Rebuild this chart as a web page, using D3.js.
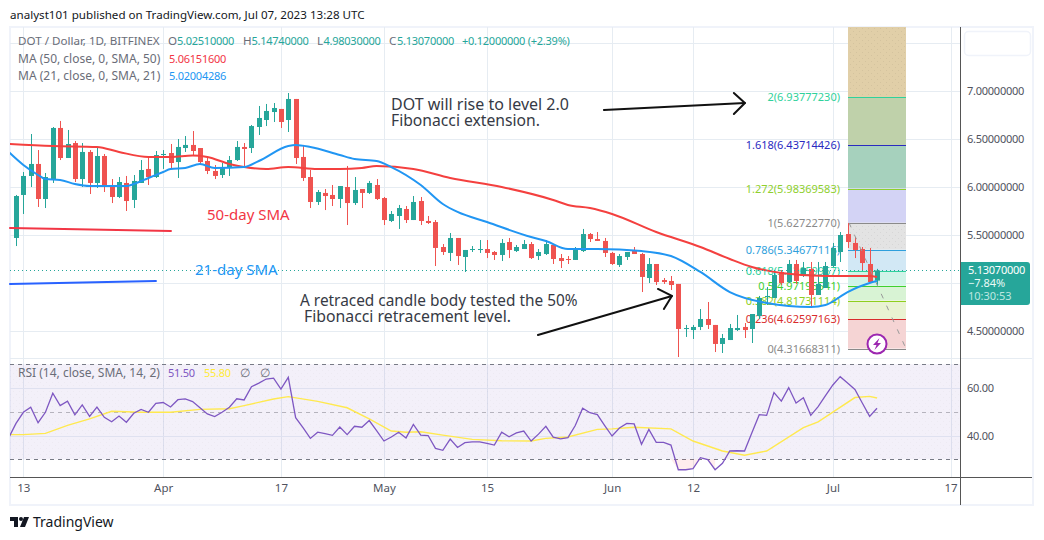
<!DOCTYPE html>
<html><head><meta charset="utf-8">
<script src="https://cdn.jsdelivr.net/npm/d3@7"></script>
<style>
html,body{margin:0;padding:0;background:#fff}
svg{display:block}
text{font-family:"Noto Sans",sans-serif}
</style></head><body><svg id="c" width="1044" height="540"></svg>
<script>
// Daily candles, 12 Mar 2023 (index 0) to 7 Jul 2023 (index 117)
const opens=[5.469,5.917,6.115,6.240,5.875,6.083,6.615,6.302,6.458,6.083,6.365,6.042,6.323,6.021,5.896,6.042,5.865,6.042,6.188,6.104,6.333,6.354,6.260,6.406,6.438,6.406,6.271,6.167,6.125,6.198,6.281,6.417,6.406,6.625,6.698,6.781,6.813,6.698,6.917,6.313,6.104,5.844,5.938,5.917,5.875,6.000,5.833,5.979,5.938,6.021,5.885,5.646,5.698,5.771,5.656,5.854,5.646,5.635,5.375,5.313,5.469,5.271,5.344,5.344,5.354,5.323,5.292,5.427,5.333,5.354,5.406,5.281,5.302,5.396,5.260,5.250,5.240,5.333,5.510,5.458,5.438,5.313,5.188,5.271,5.344,5.302,5.052,5.198,5.031,5.021,4.990,4.521,4.510,4.542,4.625,4.563,4.365,4.406,4.510,4.542,4.521,4.656,4.854,4.844,5.115,5.010,5.198,5.073,5.146,4.875,4.948,5.177,5.323,5.510,5.417,5.354,5.198,5.0251];
const highs=[5.917,6.156,6.552,6.385,6.146,6.625,6.688,6.594,6.479,6.458,6.385,6.417,6.344,6.083,6.104,6.115,6.125,6.281,6.302,6.375,6.385,6.448,6.5,6.531,6.583,6.406,6.313,6.229,6.25,6.323,6.479,6.458,6.646,6.844,6.865,6.875,6.813,6.979,6.917,6.438,6.177,5.969,5.979,6.021,6.010,6.219,6.104,5.979,6.063,6.083,5.896,5.75,5.813,5.802,5.906,5.896,5.698,5.656,5.406,5.521,5.469,5.344,5.385,5.448,5.448,5.333,5.458,5.469,5.396,5.448,5.427,5.354,5.448,5.406,5.302,5.281,5.375,5.563,5.521,5.531,5.469,5.323,5.302,5.323,5.375,5.313,5.260,5.198,5.052,5.073,4.990,4.563,4.563,4.729,4.802,4.563,4.469,4.573,4.667,4.583,4.677,4.865,4.958,5.135,5.135,5.240,5.240,5.219,5.219,5.219,5.219,5.417,5.531,5.625,5.479,5.375,5.365,5.1474];
const lows=[5.385,5.719,6.0,5.792,5.781,6.042,6.281,6.302,6.052,6.0,5.927,5.990,5.948,5.833,5.885,5.75,5.781,6.042,6.021,6.094,6.188,6.188,6.094,6.365,6.333,6.240,6.135,6.083,6.094,6.115,6.271,6.219,6.354,6.542,6.635,6.677,6.615,6.573,6.240,6.063,5.781,5.813,5.760,5.802,5.781,5.604,5.813,5.781,5.927,5.865,5.604,5.635,5.563,5.625,5.656,5.604,5.615,5.177,5.292,5.229,5.188,5.115,5.323,5.313,5.260,5.240,5.229,5.260,5.323,5.354,5.25,5.240,5.292,5.198,5.156,5.198,5.240,5.323,5.427,5.438,5.271,5.188,5.167,5.240,5.302,4.906,5.0,4.979,4.990,4.927,4.229,4.438,4.417,4.510,4.521,4.281,4.271,4.406,4.5,4.427,4.375,4.625,4.771,4.844,4.979,5.0,4.990,5.063,4.740,4.875,4.948,5.167,5.219,5.365,5.260,5.135,5.0,4.9803];
const closes=[5.906,6.115,6.240,5.875,6.104,6.615,6.302,6.448,6.083,6.365,6.042,6.323,6.0,5.896,6.052,5.854,6.063,6.177,6.104,6.333,6.344,6.25,6.417,6.438,6.375,6.260,6.167,6.115,6.208,6.281,6.417,6.396,6.635,6.719,6.792,6.823,6.677,6.917,6.302,6.094,5.844,5.948,5.906,5.875,6.010,5.833,5.969,5.938,6.042,5.875,5.656,5.719,5.781,5.656,5.844,5.646,5.625,5.365,5.323,5.469,5.281,5.344,5.354,5.354,5.313,5.292,5.417,5.344,5.375,5.406,5.260,5.323,5.406,5.25,5.229,5.240,5.344,5.510,5.458,5.438,5.313,5.198,5.281,5.323,5.302,5.063,5.198,5.010,5.010,4.979,4.521,4.531,4.542,4.625,4.563,4.365,4.427,4.531,4.531,4.510,4.677,4.844,4.865,5.083,5.0,5.198,5.021,5.156,4.875,4.990,5.177,5.365,5.5,5.427,5.344,5.208,5.010,5.1307];
// Moving averages: candle index and value
const ma50Idx=[-1,5,11,14,18,21,24,26,29,31,34,37,41,44,47,49,54,59,66,73,75,78,81,87,93,97,100,104,110,116,117];
const ma50Val=[6.448,6.427,6.417,6.365,6.313,6.313,6.328,6.313,6.24,6.208,6.188,6.208,6.188,6.188,6.198,6.219,6.188,6.094,6.0,5.865,5.813,5.781,5.719,5.531,5.375,5.25,5.167,5.104,5.073,5.073,5.0615];
const ma21Idx=[-1,1,3,4,6,8,10,15,16,18,20,21,23,25,27,31,33,37,38,40,44,46,49,51,55,58,60,64,70,72,75,79,85,89,93,97,102,108,110,113,116,117];
const ma21Val=[6.365,6.229,6.125,6.083,6.073,6.031,6.010,6.010,6.031,6.094,6.156,6.188,6.198,6.24,6.198,6.208,6.271,6.427,6.438,6.417,6.333,6.292,6.271,6.208,6.021,5.823,5.74,5.635,5.479,5.438,5.354,5.354,5.333,5.281,5.115,4.906,4.792,4.75,4.771,4.906,5.0,5.02];
// RSI, index -1 to 117
const rsiVal=[39,45.1,49.8,51.9,45.4,49.8,57.8,52.6,54.5,48.7,52.9,48.1,52.0,47.7,45.8,48.2,45.6,49.4,51,49.8,53.6,53.9,52,55.1,55.4,54.3,51.7,49.1,48,49.8,51.9,55.5,55,60.6,62.1,63.8,64.2,59.6,64.5,47.5,43.3,38.8,41.4,40.8,40.1,43.6,40.4,43.9,43.5,46.3,42.1,37.7,39.4,41.4,39,44.7,40.2,40,34.6,33.8,38.5,35,37,37.3,37.3,36.7,36,41.4,39.5,41.1,41.9,37.7,40.6,43.9,39.3,38.6,39.1,44.2,51.5,49.6,48.8,44.2,39.8,43.2,45.1,44.9,36.3,42.6,37.1,37.1,36,25.6,25.6,26.1,30.7,29.9,25.6,28.3,33.5,33.6,33.5,41.2,48.8,48.5,58.1,54.5,60.2,53.7,55.9,48.5,52.2,56.8,61.3,64.8,62.1,59.4,53.7,48.1,51.5];
const rsiMaIdx=[-1,1,4,7,10,13,17,21,25,29,31,35,37,41,45,48,51,53,55,58,62,66,70,72,75,79,81,84,89,92,96,99,102,107,109,114,116,117];
const rsiMaVal=[40.4,40.4,40.9,44.3,47,50.2,49.8,49.8,51,51.3,52.6,55.4,56.4,54.4,51.7,47,41.9,41.4,41.6,40.2,38.4,37.8,37.7,38.8,39.4,42.6,42.8,43.5,42.8,37.7,33.5,31.7,33.5,43.3,45.8,56,56.5,55.8];
// Fibonacci levels
const fibBase=4.31668311, fibTop=5.6272277;
const fibRatios=[2,1.618,1.272,1,0.786,0.618,0.5,0.382,0.236,0];
const fibLabels=["2(6.93777230)","1.618(6.43714426)","1.272(5.98369583)","1(5.62722770)","0.786(5.34677116)","0.618(5.12659967)","0.5(4.97195541)","0.382(4.81731114)","0.236(4.62597163)","0(4.31668311)"];
const fibLineColors=["#2fd19b","#2a2ac0","#8fcf2e","#8a8a8a","#2f9fdc","#2fd19b","#3fd02f","#8fcf1e","#d92c2c","#8a8a8a"];
const fibFillColors=["#bfd1aa","#a6d1bd","#d3d3f5","#e3e3e3","#d2e8f5","#d0f3e8","#d8f3d4","#e9f3d2","#f5d4d4"];
const fibAboveColor="#e1cfa8";
const fibStartEnd=[113.02,120.9];
// Axis ticks
const priceTicks=[7,6.5,6,5.5,4.5];
const priceGrid=[7.5,7,6.5,6,5.5,5,4.5];
const rsiTicks=[60,40];
const timeIdx=[1,20,36,50,64,81,92,111,127];
const timeLabels=["13","Apr","17","May","15","Jun","12","Jul","17"];
// Drawn annotations: [candle index, price]
const redHand=[[-0.82,5.573],[21.06,5.542]];
const blueHand=[[-0.82,4.99],[19.02,5.021]];
const arrowUp=[[79.89,6.802],[99.05,6.875]];
const arrowUpHead=[[97.55,6.979],[99.05,6.875],[97.55,6.76]];
const arrowIn=[[70.92,4.458],[89.13,4.865]];
const arrowInHead=[[87.23,4.938],[89.13,4.865],[88.04,4.729]];

const UP="#26a69a",DOWN="#ef5350",L=10,R=960.5,GRID="#e6ecf2";
const svg=d3.select("#c");
const x=d3.scaleLinear().domain([0,117]).range([16,877]);
const y=d3.scaleLinear().domain([7,4.5]).range([91,331]);
const yR=d3.scaleLinear().domain([70,30]).range([364.3,459.3]);
const px=v=>Math.round(x(v));
const defs=svg.append("defs");
const pat=defs.append("pattern").attr("id","dots").attr("width",6).attr("height",6).attr("patternUnits","userSpaceOnUse");
pat.append("rect").attr("x",1).attr("y",1).attr("width",1).attr("height",1).attr("fill","#000").attr("opacity",.06);
pat.append("rect").attr("x",4).attr("y",4).attr("width",1).attr("height",1).attr("fill","#000").attr("opacity",.06);
defs.append("clipPath").attr("id","pane").append("rect").attr("x",L).attr("y",27).attr("width",R-L).attr("height",331);
defs.append("clipPath").attr("id","paneR").append("rect").attr("x",L).attr("y",359).attr("width",R-L).attr("height",118);

// frame
svg.append("rect").attr("x",10).attr("y",27).attr("width",1023).attr("height",478).attr("fill","#fff").attr("stroke","#f0f3fa").attr("stroke-width",2);

// grid
const g=svg.append("g");
g.selectAll(".v").data(timeIdx).join("line").attr("x1",d=>px(d)+.5).attr("x2",d=>px(d)+.5).attr("y1",27).attr("y2",477).attr("stroke",GRID);
g.selectAll(".h").data(priceGrid).join("line").attr("x1",L).attr("x2",R).attr("y1",d=>Math.round(y(d))+.5).attr("y2",d=>Math.round(y(d))+.5).attr("stroke",GRID);
g.append("line").attr("x1",L).attr("x2",1032).attr("y1",358.5).attr("y2",358.5).attr("stroke",GRID);

// RSI pane background
g.append("rect").attr("x",L).attr("width",R-L).attr("y",yR(70)).attr("height",yR(30)-yR(70)).attr("fill","#7e57c2").attr("opacity",.09);
g.append("rect").attr("x",L).attr("width",R-L).attr("y",yR(70)).attr("height",yR(30)-yR(70)).attr("fill","url(#dots)").attr("opacity",.45);
g.selectAll(".rg").data(rsiTicks).join("line").attr("x1",L).attr("x2",R).attr("y1",d=>Math.round(yR(d))+.5).attr("y2",d=>Math.round(yR(d))+.5).attr("stroke","#dfe1f0");
[[70,"#787b86"],[50,"#b5b3bd"],[30,"#787b86"]].forEach(([v,c])=>g.append("line").attr("x1",L).attr("x2",R).attr("y1",Math.round(yR(v))+.5).attr("y2",Math.round(yR(v))+.5).attr("stroke",c).attr("stroke-dasharray","4 4"));

// fib zones
const fibPrice=r=>fibBase+r*(fibTop-fibBase);
const fx0=Math.round(x(fibStartEnd[0])),fx1=Math.round(x(fibStartEnd[1]));
const fib=svg.append("g");
fib.append("rect").attr("x",fx0).attr("width",fx1-fx0).attr("y",27).attr("height",y(fibPrice(2))-27).attr("fill",fibAboveColor);
fib.append("rect").attr("x",fx0).attr("width",fx1-fx0).attr("y",27).attr("height",y(fibPrice(2))-27).attr("fill","url(#dots)");
fibFillColors.forEach((c,i)=>{
  const a=y(fibPrice(fibRatios[i])),b=y(fibPrice(fibRatios[i+1]));
  fib.append("rect").attr("x",fx0).attr("width",fx1-fx0).attr("y",a).attr("height",b-a).attr("fill",c);
  if(i==3) fib.append("rect").attr("x",fx0).attr("width",fx1-fx0).attr("y",a).attr("height",b-a).attr("fill","url(#dots)");
});
fibRatios.forEach((r,i)=>{
  const yy=Math.round(y(fibPrice(r)))+.5;
  fib.append("line").attr("x1",fx0).attr("x2",fx1).attr("y1",yy).attr("y2",yy).attr("stroke",fibLineColors[i]);
  fib.append("text").attr("x",840).attr("y",yy).attr("dy",".35em").attr("text-anchor","end").attr("font-size",11).attr("fill",fibLineColors[i]).text(fibLabels[i]);
});

// candles
const n=d3.range(opens.length);
const cg=svg.append("g").attr("clip-path","url(#pane)");
const col=i=>closes[i]>=opens[i]?UP:DOWN;
cg.selectAll(".w").data(n).join("rect").attr("x",i=>px(i)).attr("width",1).attr("y",i=>y(highs[i])).attr("height",i=>y(lows[i])-y(highs[i])).attr("fill",col);
cg.selectAll(".b").data(n).join("rect").attr("x",i=>px(i)-2).attr("width",5)
  .attr("y",i=>y(Math.max(opens[i],closes[i]))).attr("height",i=>Math.max(1,Math.abs(y(opens[i])-y(closes[i])))).attr("fill",col);

// current price dotted
svg.append("line").attr("x1",L).attr("x2",R).attr("y1",Math.round(y(closes[117]))+.5).attr("y2",Math.round(y(closes[117]))+.5).attr("stroke",UP).attr("stroke-dasharray","1 3");

// MA lines
const lineMain=d3.line().x(d=>x(d[0])).y(d=>y(d[1])).curve(d3.curveMonotoneX);
const zip=(a,b)=>a.map((v,i)=>[v,b[i]]);
cg.append("path").attr("d",lineMain(zip(ma50Idx,ma50Val))).attr("fill","none").attr("stroke","#f4403f").attr("stroke-width",2);
cg.append("path").attr("d",lineMain(zip(ma21Idx,ma21Val))).attr("fill","none").attr("stroke","#2196f3").attr("stroke-width",2);

// fib trend line
svg.append("line").attr("x1",fx0+1).attr("x2",fx1).attr("y1",y(fibTop)).attr("y2",y(fibBase)).attr("stroke","#999").attr("stroke-dasharray","5 8");

// hand lines & arrows
const straight=d3.line().x(d=>x(d[0])).y(d=>y(d[1]));
const hp=(d,c,w)=>svg.append("path").attr("d",straight(d)).attr("fill","none").attr("stroke",c).attr("stroke-width",w).attr("stroke-linecap","round").attr("stroke-linejoin","round");
hp(redHand,"#f23645",2);hp(blueHand,"#2962ff",2);
hp(arrowUp,"#111",2);hp(arrowUpHead,"#111",2);hp(arrowIn,"#111",2);hp(arrowInHead,"#111",2);

// text helper; sp is letter spacing
const note=(t,xx,yy,c,s,sp)=>{const e=svg.append("text").attr("x",xx).attr("y",yy).attr("fill",c).attr("font-size",s).text(t);if(sp)e.attr("letter-spacing",sp);return e;};
note("DOT will rise to level 2.0",391,110,"#363a45",16);
note("Fibonacci extension.",391,126,"#363a45",15.7);
note("A retraced candle body tested the 50%",300,306,"#363a45",15.4);
note("Fibonacci retracement level.",304,322,"#363a45",15.8);
note("50-day SMA",207,220,"#f23645",15);
note("21-day SMA",195,275,"#2196f3",15);

// bolt icon
const ic=svg.append("g").attr("transform",`translate(${px(117)},344)`);
ic.append("circle").attr("r",9.5).attr("fill","#fff").attr("stroke","#9c27b0").attr("stroke-width",2);
ic.append("path").attr("d","M2.5,-6 L-4,1 L-0.5,1 L-2.5,6 L4,-1 L0.5,-1 Z").attr("fill","#9c27b0");

// RSI
const cr=svg.append("g").attr("clip-path","url(#paneR)");
const rIdx=d3.range(-1,118);
cr.append("path").attr("d",d3.area().x(d=>x(d)).y0(yR(30)).y1((d,i)=>Math.max(yR(30),yR(rsiVal[i]))).defined(d=>d>=89&&d<=95)(rIdx)).attr("fill","#ff5252").attr("opacity",.1);
cr.append("path").attr("d",d3.line().x(d=>x(d[0])).y(d=>yR(d[1]))(zip(rsiMaIdx,rsiMaVal))).attr("fill","none").attr("stroke","#ffe94f").attr("stroke-width",1.4);
cr.append("path").attr("d",d3.line().x(d=>x(d)).y((d,i)=>yR(rsiVal[i]))(rIdx)).attr("fill","none").attr("stroke","#7e57c2").attr("stroke-width",1.3);

// axes
const axisCol="#50535e";
const st=(fs,sp)=>(sel)=>{sel.select(".domain").remove();sel.selectAll(".tick line").remove();sel.selectAll("text").attr("fill",axisCol).attr("font-size",fs).attr("letter-spacing",sp).style("font-family",'"Noto Sans",sans-serif');};
svg.append("g").attr("transform","translate(961,0)").call(d3.axisRight(y).tickValues(priceTicks).tickFormat(d3.format(".8f")).tickSize(0).tickPadding(6)).call(st(11,-.25));
svg.append("g").attr("transform","translate(961,0)").call(d3.axisRight(yR).tickValues(rsiTicks).tickFormat(d3.format(".2f")).tickSize(0).tickPadding(6)).call(st(11,-.25));
svg.append("g").attr("transform","translate(0,477)").call(d3.axisBottom(x).tickValues(timeIdx).tickFormat((d,i)=>timeLabels[i]).tickSize(0).tickPadding(7)).call(st(11.5,0));
svg.append("line").attr("x1",10).attr("x2",1032).attr("y1",477.5).attr("y2",477.5).attr("stroke","#555");
svg.append("line").attr("x1",960.5).attr("x2",960.5).attr("y1",27).attr("y2",505).attr("stroke","#555");

// last price tag
svg.append("path").attr("d","M961,262H1027a3,3 0 0 1 3,3V302a3,3 0 0 1 -3,3H961Z").attr("fill",UP);
note(d3.format(".8f")(closes[117]),968,274,"#fff",11,-.25);
note("−7.84%",968,287,"#eafaf7",11,0);
note("10:30:53",968,300,"#bfe6e1",11,0);
svg.append("rect").attr("x",964.5).attr("y",31.5).attr("width",66).attr("height",24).attr("rx",4).attr("fill","#fff").attr("stroke","#f0f3fa").attr("stroke-width",1.5);

// header & legends
note("analyst101 published on TradingView.com, Jul 07, 2023 13:28 UTC",10,19,"#131722",11.6);
const gr="#6a6d78";
note("DOT / Dollar, 1D, BITFINEX",18,45,gr,11.6);
[["O",168,"5.02510000",9],["H",243,"5.14740000",8.5],["L",317,"4.98030000",6.5],["C",389,"5.13070000",8]].forEach(([k,xx,v,off])=>{
  note(k,xx,45,gr,11.6);
  note(v,xx+off,45,UP,11,-.25);
});
note("+0.12000000 (+2.39%)",462,45,UP,11,-.25);
note("MA (50, close, 0, SMA, 50)",18,63,gr,12);note("5.06151600",169,63,"#f23645",11,-.25);
note("MA (21, close, 0, SMA, 21)",18,80,gr,12);note("5.02004286",169,80,"#2196f3",11,-.25);
note("RSI (14, close, SMA, 14, 2)",18,377,gr,12);note("51.50",168,377,"#7e57c2",11,-.25);note("55.80",204,377,"#ffeb3b",11,-.25);note("∅",240,377,gr,12);note("∅",260,377,gr,12);

// logo
const lg=svg.append("g").attr("fill","#131722");
lg.append("path").attr("d","M10,517H18V527H14V521H10Z");
lg.append("circle").attr("cx",21).attr("cy",519).attr("r",2);
lg.append("path").attr("d","M24,517H29L25,527H20Z");
note("TradingView",33,527,"#131722",14);
</script></body></html>
